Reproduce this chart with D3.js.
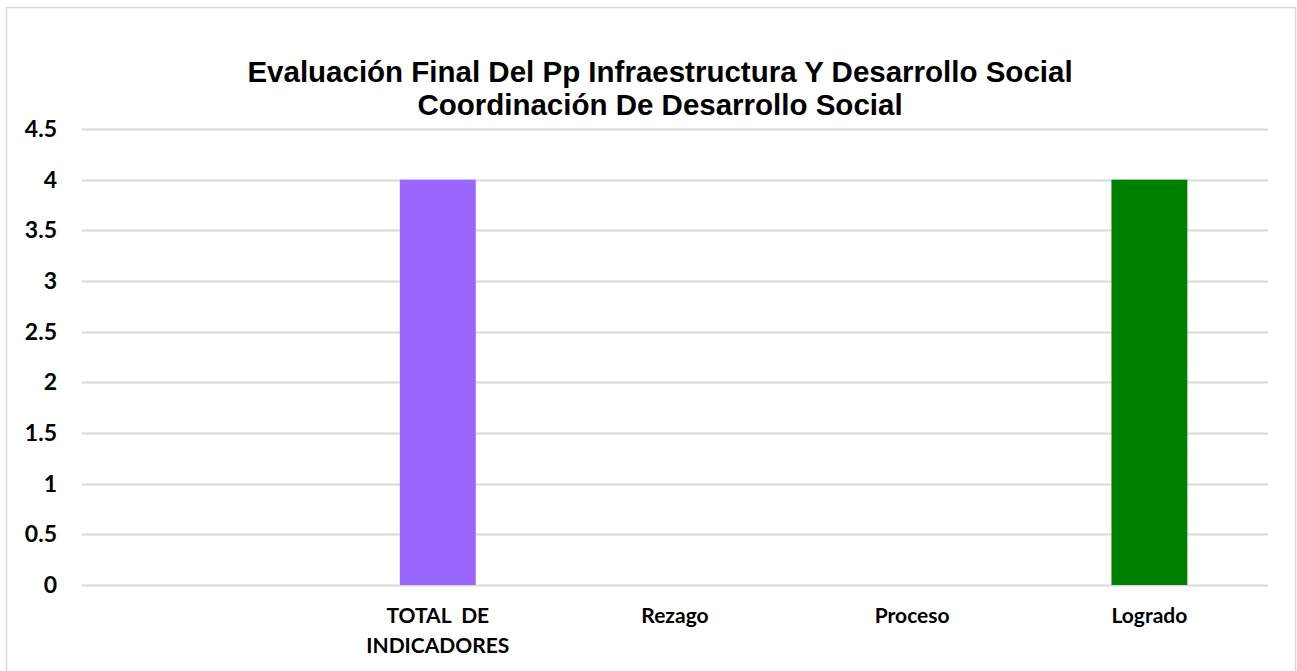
<!DOCTYPE html>
<html>
<head>
<meta charset="utf-8">
<script src="https://cdn.jsdelivr.net/npm/d3@7"></script>
<style>
  body { margin: 0; background: #fff; }
</style>
</head>
<body>
<div class="svg-container"></div>
<script>
// chart data
var categories = ["", "TOTAL  DE|INDICADORES", "Rezago", "Proceso", "Logrado"];
var values = [0, 4, 0, 0, 4];
var barColors = ["#ffffff", "#9966ff", "#ff0000", "#ffff00", "#008000"];
var yTicks = [0, 0.5, 1, 1.5, 2, 2.5, 3, 3.5, 4, 4.5];
var titleLines = ["Evaluación Final Del Pp Infraestructura Y Desarrollo Social",
                  "Coordinación De Desarrollo Social"];

var W = 1297, H = 671;
var margin = {left: 82, right: 29, top: 129, bottom: 86};

var svg = d3.select(".svg-container").append("svg")
    .attr("width", W)
    .attr("height", H);

// outer frame
svg.append("rect")
    .attr("x", 6.5).attr("y", 7.5)
    .attr("width", 1289).attr("height", 670)
    .attr("fill", "#fff")
    .attr("stroke", "#d9d9d9")
    .attr("stroke-width", 1.5);

var x = d3.scaleBand()
    .domain(d3.range(categories.length))
    .range([margin.left, W - margin.right])
    .paddingInner(0.68)
    .paddingOuter(0.34);

var y = d3.scaleLinear()
    .domain([0, 4.5])
    .range([H - margin.bottom, margin.top]);

// grid lines
svg.append("g")
    .selectAll("line").data(yTicks)
    .enter().append("line")
    .attr("x1", margin.left)
    .attr("x2", W - margin.right)
    .attr("y1", function(d){ return Math.round(y(d)) + 0.5; })
    .attr("y2", function(d){ return Math.round(y(d)) + 0.5; })
    .attr("stroke", "#d9d9d9")
    .attr("stroke-width", 2);

// y axis labels
var yAxis = d3.axisLeft(y)
    .tickValues(yTicks)
    .tickSize(0)
    .tickPadding(0)
    .tickFormat(d3.format("~g"));

var gy = svg.append("g")
    .attr("transform", "translate(57,0)")
    .call(yAxis);
gy.select(".domain").remove();
gy.selectAll("text")
    .attr("font-family", "Lato, 'Open Sans', sans-serif")
    .attr("font-weight", "bold")
    .attr("font-size", "23px")
    .attr("fill", "#000");

// bars
svg.append("g")
    .selectAll("rect").data(values)
    .enter().append("rect")
    .attr("x", function(d, i){ return x(i); })
    .attr("y", function(d){ return y(d); })
    .attr("width", x.bandwidth())
    .attr("height", function(d){ return y(0) - y(d); })
    .attr("fill", function(d, i){ return barColors[i]; })
    .attr("display", function(d){ return d > 0 ? null : "none"; });

// x labels
var xl = svg.append("g").selectAll("text").data(categories)
    .enter().append("text")
    .attr("y", 623)
    .attr("text-anchor", "middle")
    .attr("font-family", "Lato, 'Open Sans', sans-serif")
    .attr("font-weight", "bold")
    .attr("font-size", "21px")
    .attr("fill", "#000");

xl.each(function(c, i){
  var t = d3.select(this);
  c.split("|").forEach(function(l, j){
    t.append("tspan")
        .attr("x", x(i) + x.bandwidth() / 2)
        .attr("dy", j === 0 ? 0 : 30)
        .attr("xml:space", "preserve")
        .text(l);
  });
});

// title
svg.append("g").selectAll("text").data(titleLines)
    .enter().append("text")
    .attr("x", 660)
    .attr("y", function(d, i){ return 82 + i * 33; })
    .attr("text-anchor", "middle")
    .attr("font-family", "'Liberation Sans', Arial, sans-serif")
    .attr("font-weight", "bold")
    .attr("font-size", "29.5px")
    .attr("fill", "#000")
    .text(function(d){ return d; });
</script>
</body>
</html>
